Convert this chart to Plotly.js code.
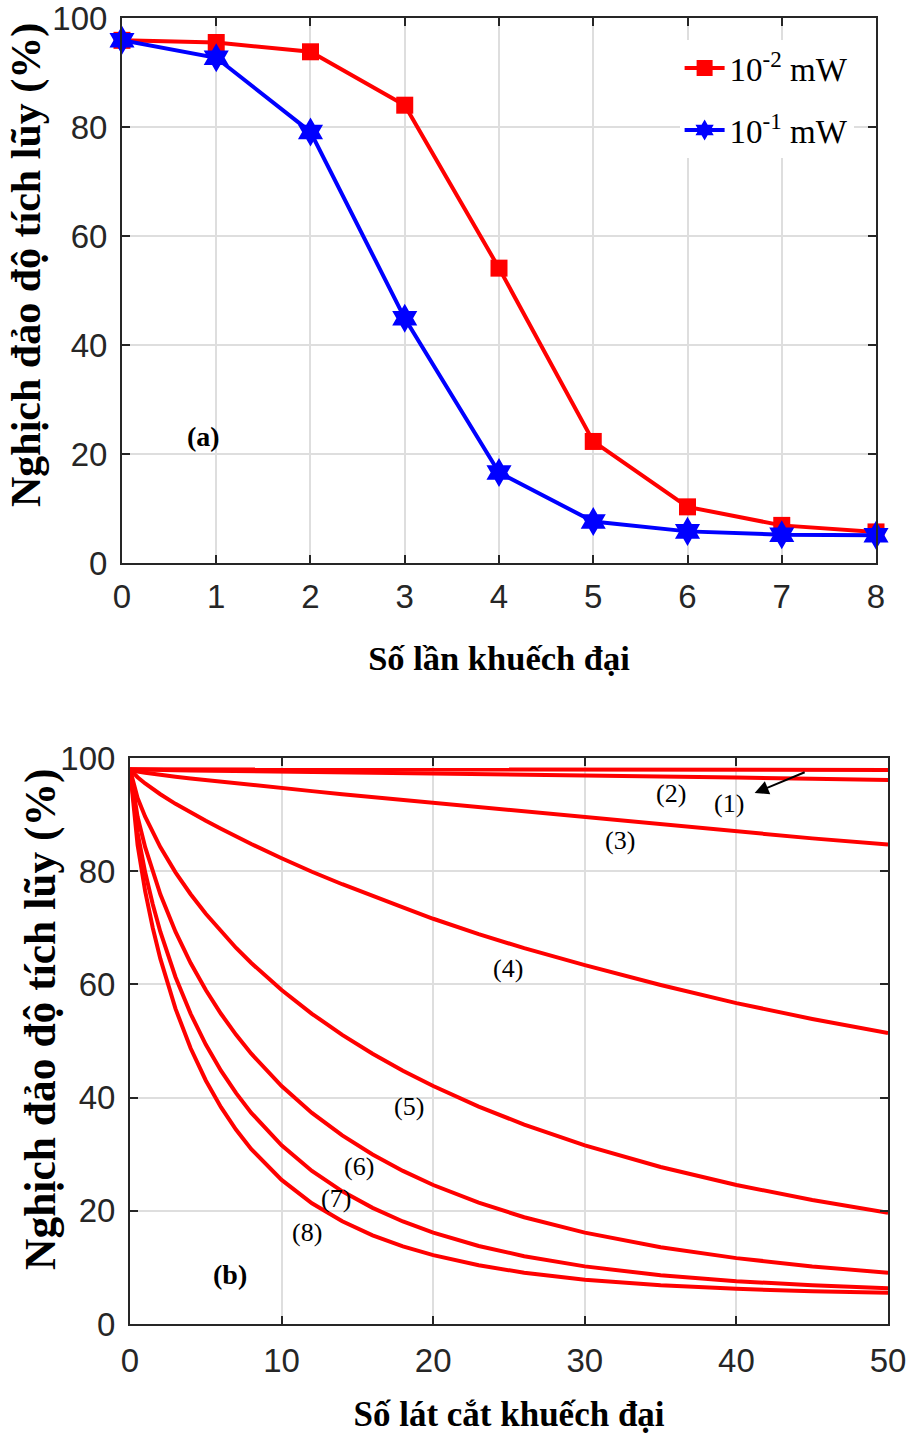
<!DOCTYPE html>
<html>
<head>
<meta charset="utf-8">
<script src="https://cdn.plot.ly/plotly-3.0.1.min.js"></script>
<style>html,body{margin:0;padding:0;background:#fff;}#chart{width:911px;height:1434px;}</style>
</head>
<body>
<div id="chart"></div>
<script>
// ---- Panel (a) data ----
const stepsA = [0, 1, 2, 3, 4, 5, 6, 7, 8];
const power2 = [95.9, 95.5, 93.8, 84.0, 54.1, 22.3, 10.3, 6.9, 5.7];   // 10^-2 mW
const power1 = [95.9, 92.7, 79.1, 44.9, 16.6, 7.6, 5.8, 5.2, 5.1];    // 10^-1 mW
const legendA = ['10<sup>-2</sup> mW', '10<sup>-1</sup> mW'];

// ---- Panel (b) data ----
const slicesB = [0, 0.5, 1, 1.5, 2, 3, 4, 5, 6, 7, 8, 10, 12, 14, 16, 18, 20, 23, 26, 30, 35, 40, 45, 50];
const curve1 = [98.0, 98.0, 98.0, 98.0, 98.0, 98.0, 98.0, 98.0, 98.0, 98.0, 98.0, 98.0, 98.0, 98.0, 98.0, 98.0, 98.0, 98.0, 97.95, 97.95, 97.95, 97.9, 97.9, 97.9];
const curve2 = [98.0, 97.95, 97.93, 97.9, 97.88, 97.85, 97.8, 97.77, 97.73, 97.7, 97.67, 97.6, 97.54, 97.48, 97.42, 97.36, 97.3, 97.2, 97.1, 96.95, 96.75, 96.55, 96.33, 96.1];
const curve3 = [98.0, 97.6, 97.4, 97.2, 97.05, 96.7, 96.4, 96.1, 95.8, 95.5, 95.25, 94.7, 94.15, 93.6, 93.1, 92.6, 92.1, 91.3, 90.5, 89.5, 88.2, 87.0, 85.8, 84.7];
const curve4 = [98.0, 96.6, 95.5, 94.5, 93.6, 91.9, 90.3, 88.9, 87.5, 86.1, 84.8, 82.3, 79.9, 77.7, 75.6, 73.6, 71.6, 68.9, 66.4, 63.4, 59.9, 56.7, 53.9, 51.4];
const curve5 = [98.0, 92.95, 89.62, 86.78, 84.25, 79.81, 75.93, 72.47, 69.32, 66.44, 63.78, 59.0, 54.81, 51.09, 47.76, 44.76, 42.04, 38.41, 35.23, 31.57, 27.74, 24.56, 21.9, 19.67];
const curve6 = [98.0, 89.62, 84.25, 79.81, 75.93, 69.32, 63.78, 59.0, 54.81, 51.09, 47.76, 42.04, 37.3, 33.32, 29.95, 27.05, 24.56, 21.43, 18.87, 16.15, 13.56, 11.64, 10.18, 9.07];
const curve7 = [98.0, 86.78, 79.81, 74.15, 69.32, 61.31, 54.81, 49.38, 44.76, 40.78, 37.3, 31.57, 27.05, 23.44, 20.52, 18.12, 16.15, 13.79, 11.98, 10.18, 8.62, 7.56, 6.83, 6.32];
const curve8 = [98.0, 84.62, 76.48, 70.01, 64.56, 55.71, 48.72, 43.03, 38.3, 34.31, 30.9, 25.46, 21.33, 18.16, 15.67, 13.72, 12.16, 10.37, 9.06, 7.84, 6.84, 6.21, 5.8, 5.54];
const curvesB = [curve1, curve2, curve3, curve4, curve5, curve6, curve7, curve8];
const curveLabels = ['(1)', '(2)', '(3)', '(4)', '(5)', '(6)', '(7)', '(8)'];

const axisTitle = 'Nghịch đảo độ tích lũy (%)';
const xTitleA = 'Số lần khuếch đại';
const xTitleB = 'Số lát cắt khuếch đại';

const RED = '#ff0000', BLUE = '#0000ff', AX = '#262626', GRID = '#dedede';
const tickFont = {family: 'Liberation Sans, Arial, sans-serif', size: 33, color: AX};
const serif = 'Liberation Serif, Times New Roman, serif';

const traces = [
  {x: stepsA, y: power2, name: legendA[0], type: 'scatter', mode: 'lines+markers', xaxis: 'x', yaxis: 'y',
   legendgroup: 'g1', cliponaxis: false,
   line: {color: RED, width: 4}, marker: {symbol: 'square', size: 17, color: RED}},
  {x: stepsA, y: power1, name: legendA[1], type: 'scatter', mode: 'lines+markers', xaxis: 'x', yaxis: 'y',
   legendgroup: 'g2', cliponaxis: false,
   line: {color: BLUE, width: 4}, marker: {symbol: 'hexagram', size: 22, color: BLUE}}
];
curvesB.forEach((c, i) => {
  traces.push({x: slicesB, y: c, type: 'scatter', mode: 'lines', xaxis: 'x2', yaxis: 'y2', showlegend: false,
    line: {color: RED, width: 4}, name: curveLabels[i]});
});

function xax(domain, anchor, range, dtick, title, size, standoffLabel, standoffTitle) {
  return {domain: domain, anchor: anchor, range: range, dtick: dtick, tick0: 0,
    ticks: 'inside', ticklen: 8, tickwidth: 2, tickcolor: AX,
    showline: true, linecolor: AX, linewidth: 2, mirror: 'ticks',
    showgrid: true, gridcolor: GRID, gridwidth: 2, zeroline: false,
    tickfont: tickFont, ticklabelstandoff: standoffLabel, ticklabeloverflow: 'allow',
    title: {text: '<b>' + title + '</b>', font: {family: serif, size: size, color: '#000'}, standoff: standoffTitle}};
}
function yax(domain, anchor) {
  return {domain: domain, anchor: anchor, range: [0, 100], dtick: 20, tick0: 0,
    ticks: 'inside', ticklen: 8, tickwidth: 2, tickcolor: AX,
    showline: true, linecolor: AX, linewidth: 2, mirror: 'ticks',
    showgrid: true, gridcolor: GRID, gridwidth: 2, zeroline: false,
    tickfont: tickFont, ticklabelstandoff: 6, ticklabeloverflow: 'allow'};
}

const labelPos = [[39.5, 92.0], [35.7, 93.8], [32.3, 85.5], [24.9, 62.9], [18.4, 38.4], [15.1, 27.9], [13.6, 22.1], [11.7, 16.1]];
const annotations = [
  {xref: 'paper', yref: 'paper', x: 27 / 911, y: 1 - 265 / 1434, text: '<b>' + axisTitle + '</b>', textangle: -90,
   showarrow: false, xanchor: 'center', yanchor: 'middle', font: {family: serif, size: 42, color: '#000'}},
  {xref: 'paper', yref: 'paper', x: 40 / 911, y: 1 - 1019 / 1434, text: '<b>' + axisTitle + '</b>', textangle: -90,
   showarrow: false, xanchor: 'center', yanchor: 'middle', font: {family: serif, size: 43.5, color: '#000'}},
  {xref: 'x', yref: 'y', x: 0.87, y: 23.3, text: '<b>(a)</b>', showarrow: false, font: {family: serif, size: 28, color: '#000'}},
  {xref: 'x2', yref: 'y2', x: 6.6, y: 8.8, text: '<b>(b)</b>', showarrow: false, font: {family: serif, size: 28, color: '#000'}},
  {xref: 'x2', yref: 'y2', axref: 'x2', ayref: 'y2', x: 41.2, y: 93.8, ax: 44.6, ay: 97.6, text: '',
   showarrow: true, arrowhead: 2, arrowsize: 1.4, arrowwidth: 2, arrowcolor: '#000'}
];
curveLabels.forEach((t, i) => {
  annotations.push({xref: 'x2', yref: 'y2', x: labelPos[i][0], y: labelPos[i][1], text: t, showarrow: false,
    font: {family: serif, size: 26, color: '#000'}});
});

const layout = {
  width: 911, height: 1434, margin: {l: 0, r: 0, t: 0, b: 0},
  paper_bgcolor: '#fff', plot_bgcolor: '#fff',
  showlegend: true,
  legend: {x: 0.746, y: 0.972, xanchor: 'left', yanchor: 'top', bgcolor: '#fff', borderwidth: 0,
    font: {family: serif, size: 33, color: '#000'}, tracegroupgap: 16, itemwidth: 40},
  xaxis: xax([0.1339, 0.9616], 'y', [0, 8], 1, xTitleA, 34.5, 3, 32),
  yaxis: yax([0.6074, 0.98745], 'x'),
  xaxis2: xax([0.1427, 0.9748], 'y2', [0, 50], 10, xTitleB, 35, 6, 30),
  yaxis2: yax([0.0767, 0.4714], 'x2'),
  annotations: annotations
};

Plotly.newPlot('chart', traces, layout, {displayModeBar: false, staticPlot: true});
</script>
</body>
</html>
